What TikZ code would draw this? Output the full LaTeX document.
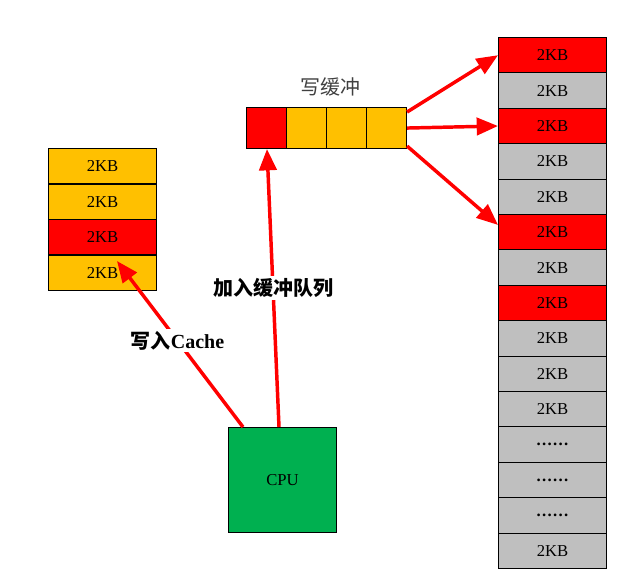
\documentclass[tikz,border=0pt]{standalone}
\usepackage{fontspec}
\setmainfont{Liberation Serif}
\newfontfamily\cjk{Noto Sans CJK SC}
\usetikzlibrary{arrows.meta,calc}
\definecolor{cyel}{HTML}{FFC000}
\definecolor{cred}{HTML}{FF0000}
\definecolor{cgray}{HTML}{BFBFBF}
\definecolor{cgreen}{HTML}{00B050}
\newcommand\mydots{\textbf{.\kern1pt.\kern1pt.\kern1pt.\kern1pt.\kern1pt.}}
\begin{document}
\begin{tikzpicture}[x=0.75pt,y=-0.75pt,
  cell/.style={draw=black,line width=0.8pt,minimum width=81pt,minimum height=26.5pt,inner sep=0pt,font=\fontsize{12.5}{14}\selectfont,anchor=north west},
  bcell/.style={draw=black,line width=0.8pt,minimum width=30pt,minimum height=30.75pt,inner sep=0pt,anchor=north west},
  arr/.style={draw=cred,line width=2.6pt,-{Triangle[length=16pt,width=13pt]}},
  lbl/.style={fill=white,inner sep=1.5pt,font=\fontsize{15}{17}\selectfont\bfseries}]
\useasboundingbox (0,0) rectangle (641,587);
% left cache
\node[cell,fill=cyel] (c1) at (48,148) {2KB};
\node[cell,fill=cyel] (c2) at (48,183.5) {2KB};
\node[cell,fill=cred] (c3) at (48,219) {2KB};
\node[cell,fill=cyel] (c4) at (48,254.5) {2KB};
% write buffer
\node[bcell,fill=cred] (b1) at (246,107) {};
\node[bcell,fill=cyel] (b2) at (286,107) {};
\node[bcell,fill=cyel] (b3) at (326,107) {};
\node[bcell,fill=cyel] (b4) at (366,107) {};
\node[font=\cjk\fontsize{15}{17}\selectfont,text=black!75] (wb) at (330,87) {写缓冲};
% right column
\foreach \i/\c/\t in {0/cred/2KB,1/cgray/2KB,2/cred/2KB,3/cgray/2KB,4/cgray/2KB,5/cred/2KB,6/cgray/2KB,7/cred/2KB,8/cgray/2KB,9/cgray/2KB,10/cgray/2KB,11/cgray/\mydots,12/cgray/\mydots,13/cgray/\mydots,14/cgray/2KB}
  \node[cell,fill=\c] (r\i) at (498,37+35.4*\i) {\t};
% CPU
\node[draw=black,line width=0.8pt,fill=cgreen,minimum width=81pt,minimum height=78.75pt,inner sep=0pt,anchor=north west,font=\fontsize{12.5}{14}\selectfont] (cpu) at (228,427) {CPU};
% arrows
\coordinate (s1) at (243,427);
\coordinate (s2) at (279,427);
\coordinate (e1) at (117,261);
\coordinate (e2) at (267,149);
\draw[arr] (s1) -- (e1) node[pos=0.52,lbl] {{\cjk 写入}Cache};
\draw[arr] (s2) -- (e2) node[pos=0.5,lbl] {\cjk 加入缓冲队列};
\coordinate (o1) at ($(b4.north east)+(0,5)$);
\coordinate (o3) at ($(b4.south east)+(0,-3)$);
\coordinate (t3) at ($(r5.north west)!0.3!(r5.south west)$);
\draw[arr] (o1) -- (r0.west);
\draw[arr] (b4.east) -- (r2.west);
\draw[arr] (o3) -- (t3);
\end{tikzpicture}
\end{document}
